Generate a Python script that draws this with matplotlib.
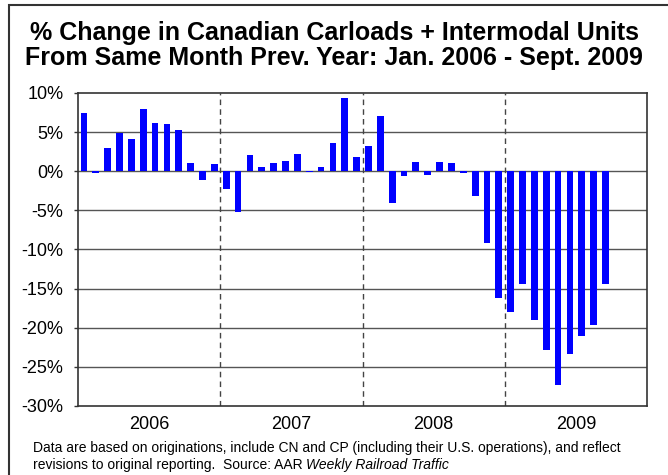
import matplotlib
matplotlib.use('Agg')
import matplotlib.pyplot as plt
from matplotlib.patches import Rectangle

plt.rcParams['font.family'] = ['Liberation Sans', 'DejaVu Sans']

# % change by month, Jan 2006 .. Sep 2009
months = ['Jan', 'Feb', 'Mar', 'Apr', 'May', 'Jun', 'Jul', 'Aug', 'Sep', 'Oct', 'Nov', 'Dec']
years = ['2006', '2007', '2008', '2009']
pct_2006 = [7.4, -0.2, 2.95, 4.9, 4.1, 7.9, 6.15, 6.0, 5.25, 1.1, -1.15, 0.9]
pct_2007 = [-2.3, -5.2, 2.05, 0.5, 1.0, 1.3, 2.15, -0.15, 0.6, 3.6, 9.3, 1.8]
pct_2008 = [3.2, 7.1, -4.0, -0.6, 1.15, -0.5, 1.15, 1.1, -0.2, -3.2, -9.2, -16.2]
pct_2009 = [-18.0, -14.4, -19.0, -22.9, -27.3, -23.4, -21.0, -19.7, -14.4]

values = pct_2006 + pct_2007 + pct_2008 + pct_2009
x = list(range(len(values)))

fig = plt.figure(figsize=(6.68, 4.75), dpi=100)
ax = fig.add_axes([0.1168, 0.1453, 0.8518, 0.659])

# grid lines behind the bars
for y in range(-25, 10, 5):
    ax.axhline(y, color='#555555', lw=1.0, zorder=1)

ax.bar(x, values, width=0.57, color='#0000ff', zorder=3)

for b in [11.5, 23.5, 35.5]:
    ax.axvline(b, color='#444444', lw=1.0, ls=(0, (4, 3)), zorder=2)

ax.set_xlim(-0.5, 47.5)
ax.set_ylim(-30, 10)
ax.set_yticks(range(-30, 11, 5))
ax.set_yticklabels(['{}%'.format(v) for v in range(-30, 11, 5)], fontsize=13)
ax.tick_params(axis='y', length=3, width=1, color='#333333', pad=7.5)

ax.set_xticks([5.5, 17.5, 29.5, 41.5])
ax.set_xticklabels(years, fontsize=13)
ax.tick_params(axis='x', length=0, pad=7)

for s in ax.spines.values():
    s.set_color('#333333')
    s.set_linewidth(1.2)

fig.text(0.5, 0.9305, '% Change in Canadian Carloads + Intermodal Units',
         ha='center', va='center', fontsize=18, fontweight='bold')
fig.text(0.5, 0.878, 'From Same Month Prev. Year: Jan. 2006 - Sept. 2009',
         ha='center', va='center', fontsize=18, fontweight='bold')

fig.text(0.049, 0.057, 'Data are based on originations, include CN and CP (including their U.S. operations), and reflect',
         ha='left', va='center', fontsize=10)
fig.text(0.049, 0.021, 'revisions to original reporting.  Source: AAR ',
         ha='left', va='center', fontsize=10)
t = fig.text(0.049, 0.021, 'revisions to original reporting.  Source: AAR ', ha='left', va='center', fontsize=10, alpha=0)
fig.canvas.draw()
bb = t.get_window_extent()
fig.text(bb.x1 / fig.bbox.width, 0.021, 'Weekly Railroad Traffic',
         ha='left', va='center', fontsize=10, style='italic')

# outer frame
fig.patches.append(Rectangle((0.014, -0.05), 1.2, 1.04, transform=fig.transFigure,
                             fill=False, edgecolor='#333333', lw=1.5))

fig.savefig('out.png', dpi=100)
